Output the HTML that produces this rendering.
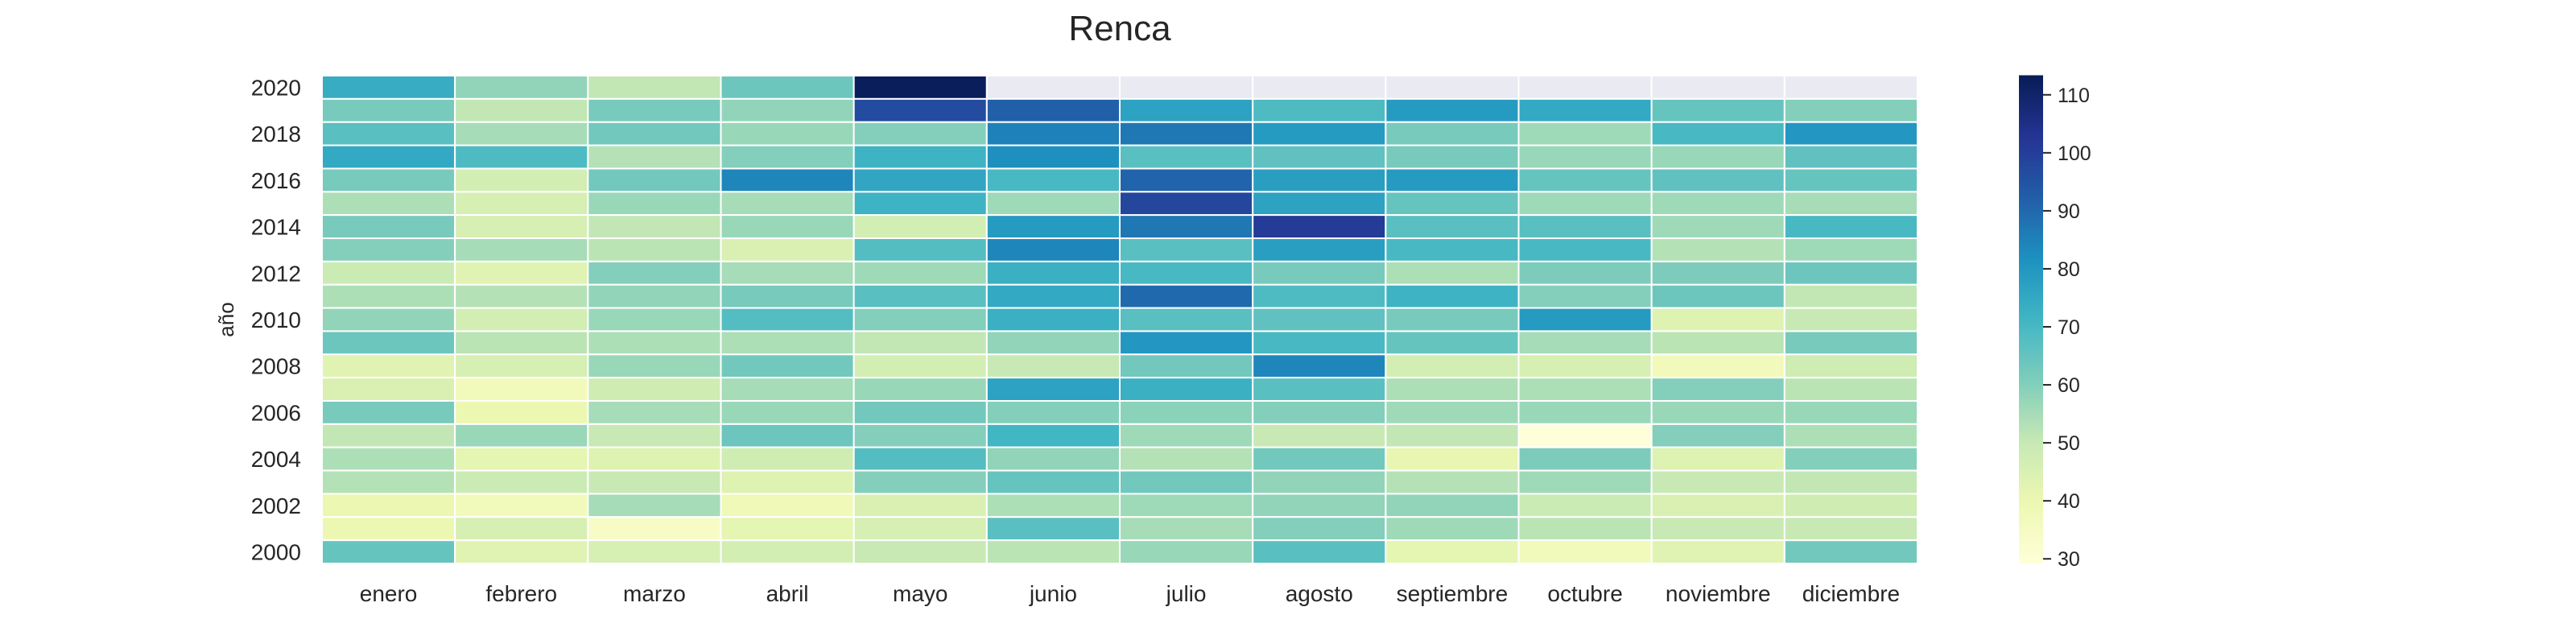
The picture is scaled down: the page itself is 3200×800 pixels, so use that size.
<!DOCTYPE html>
<html><head><meta charset="utf-8"><style>
html,body{margin:0;padding:0;background:#fff;}
svg{display:block;font-family:"Liberation Sans",Arial,sans-serif;}
</style></head><body>
<svg id="chart" width="3200" height="800" viewBox="0 0 3200 800" xmlns="http://www.w3.org/2000/svg">
<rect width="3200" height="800" fill="#fff"/>
<text x="1391" y="50" font-size="44" text-anchor="middle" fill="#262626">Renca</text>
<g id="cells"></g>
<g id="ylabels"></g>
<g id="xlabels"></g>
<text x="0" y="0" font-size="26" text-anchor="middle" fill="#262626" transform="translate(290,397) rotate(-90)">año</text>
<g id="cbar"></g>
</svg>
<script>
const months = ["enero","febrero","marzo","abril","mayo","junio","julio","agosto","septiembre","octubre","noviembre","diciembre"];
const years = [2020,2019,2018,2017,2016,2015,2014,2013,2012,2011,2010,2009,2008,2007,2006,2005,2004,2003,2002,2001,2000];
const v2020 = [74,58,51,64,113,null,null,null,null,null,null,null];
const v2019 = [62,51,62,58,97,92,77,69,79,75,65,60];
const v2018 = [67,55,63,57,60,85,87,79,62,56,70,80];
const v2017 = [75,69,53,60,72,82,67,66,62,57,57,66];
const v2016 = [62,47,63,84,76,70,91,78,79,65,66,65];
const v2015 = [54,46,57,55,72,56,98,77,65,56,56,55];
const v2014 = [62,46,51,57,47,79,87,101,67,67,56,70];
const v2013 = [60,55,52,45,68,84,67,78,70,70,53,56];
const v2012 = [49,43,60,55,56,73,70,62,54,61,61,64];
const v2011 = [54,53,58,62,67,75,90,69,72,60,64,51];
const v2010 = [58,47,57,68,60,73,67,66,62,79,44,50];
const v2009 = [64,52,54,54,51,58,80,70,65,55,52,62];
const v2008 = [43,46,57,63,47,50,63,84,47,46,37,48];
const v2007 = [45,37,48,55,57,77,73,67,54,54,60,52];
const v2006 = [62,40,55,57,63,60,59,60,56,57,57,57];
const v2005 = [51,57,50,64,60,71,56,50,51,29.5,60,54];
const v2004 = [54,42,44,48,68,58,53,63,41,61,44,60];
const v2003 = [53,49,50,44,60,65,63,58,53,56,50,51];
const v2002 = [40,37,55,38,45,54,56,58,58,49,45,48];
const v2001 = [40,46,34,42,46,67,55,60,56,52,50,50];
const v2000 = [65,43,46,47,50,52,57,67,42,37,43,63];
const rows = [v2020,v2019,v2018,v2017,v2016,v2015,v2014,v2013,v2012,v2011,v2010,v2009,v2008,v2007,v2006,v2005,v2004,v2003,v2002,v2001,v2000];
const cbarTicks = [30,40,50,60,70,80,90,100,110];
const vmin = 29.2, vmax = 113.3;

const NS="http://www.w3.org/2000/svg";
const X0=400,X1=2382,Y0=94,Y1=700;
const cw=(X1-X0)/months.length, ch=(Y1-Y0)/years.length;
const xPos=i=>X0+i*cw, yPos=j=>Y0+j*ch;
const stops=["#ffffd9","#edf8b1","#c7e9b4","#7fcdbb","#41b6c4","#1d91c0","#225ea8","#253494","#081d58"].map(h=>[parseInt(h.slice(1,3),16),parseInt(h.slice(3,5),16),parseInt(h.slice(5,7),16)]);
function color(v){let t=(v-vmin)/(vmax-vmin);t=Math.max(0,Math.min(1,t));const p=t*(stops.length-1);const i=Math.min(Math.floor(p),stops.length-2);const f=p-i;const c=stops[i].map((a,k)=>Math.round(a+(stops[i+1][k]-a)*f));return `rgb(${c[0]},${c[1]},${c[2]})`;}
function mk(tag,attrs,parent){const e=document.createElementNS(NS,tag);for(const k in attrs)e.setAttribute(k,attrs[k]);parent.appendChild(e);return e;}

const cells=document.getElementById('cells');
rows.forEach((r,j)=>r.forEach((v,i)=>{
  const e=mk('rect',{x:xPos(i),y:yPos(j),width:cw,height:ch,fill:v==null?'#eaeaf2':color(v),stroke:'#fff','stroke-width':2},cells);
  
  
}));
const yl=document.getElementById('ylabels');
years.forEach((y,j)=>{ if(y%2!==0) return;
  const t=mk('text',{x:374,y:yPos(j)+ch/2+10,'font-size':28,'text-anchor':'end',fill:'#262626'},yl);
  t.textContent=y;
  
  
});
const xl=document.getElementById('xlabels');
months.forEach((m,i)=>{
  const t=mk('text',{x:xPos(i)+cw/2,y:747,'font-size':28,'text-anchor':'middle',fill:'#262626'},xl);
  t.textContent=m;
  
  
});
const cb=document.getElementById('cbar');
const CX=2508,CW=30,CY0=94,CY1=700;
const cy=v=>CY1-(v-vmin)/(vmax-vmin)*(CY1-CY0);
const N=200;
for(let k=0;k<N;k++){const v0=vmin+(vmax-vmin)*k/N,v1=vmin+(vmax-vmin)*(k+1)/N;
  const r=mk('rect',{x:CX,y:cy(v1)-0.5,width:CW,height:cy(v0)-cy(v1)+1,fill:color((v0+v1)/2)},cb);
  
  
}
cbarTicks.forEach(v=>{
  const l=mk('line',{x1:CX+CW,x2:CX+CW+10,y1:cy(v),y2:cy(v),stroke:'#262626','stroke-width':2},cb);
  
  
  const t=mk('text',{x:CX+CW+18,y:cy(v)+9,'font-size':25,fill:'#262626'},cb);
  t.textContent=v;
  
  
});
</script>
</body></html>
